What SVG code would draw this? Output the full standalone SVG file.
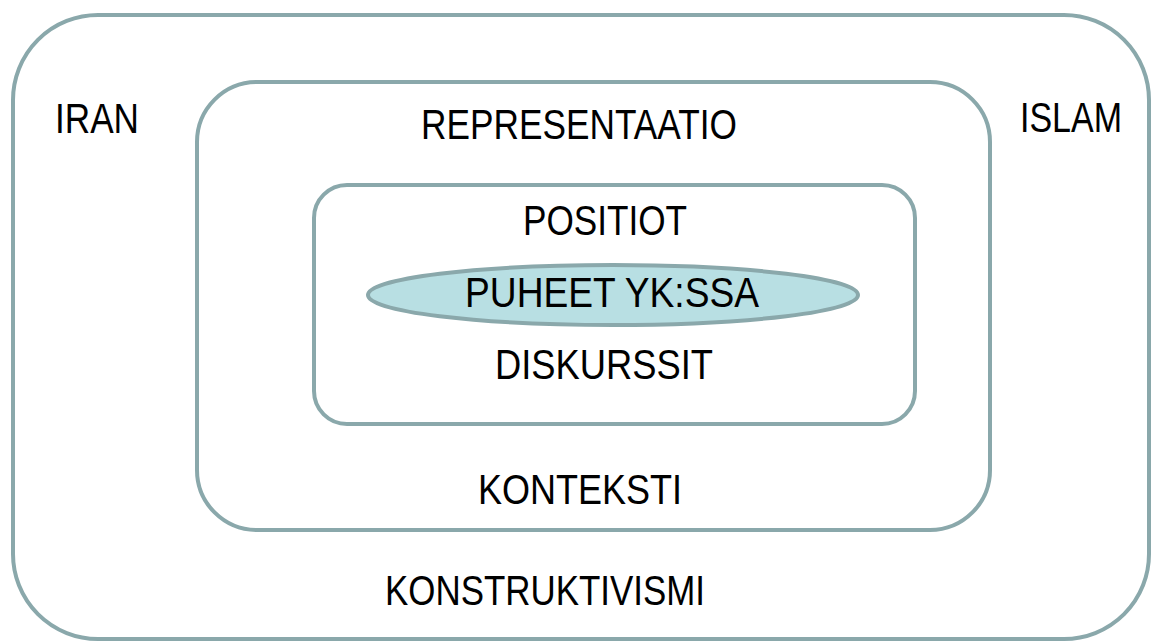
<svg xmlns="http://www.w3.org/2000/svg" width="1160" height="642" viewBox="0 0 1160 642">
<style>
.box{fill:#ffffff;stroke:#8aa8ab;stroke-width:4}
.ell{fill:#b8dfe3;stroke:#8aa8ab;stroke-width:4}
.t{font-family:"Liberation Sans",Arial,sans-serif;font-size:42px;fill:#000}
</style>
<rect width="1160" height="642" fill="#ffffff"/>
<g id="konstruktivismi">
<rect class="box" x="13" y="15" width="1136" height="624" rx="85" ry="85"/>
<text class="t" x="385" y="605" textLength="320" lengthAdjust="spacingAndGlyphs">KONSTRUKTIVISMI</text>
</g>
<g id="iran"><text class="t" x="55" y="133" textLength="84" lengthAdjust="spacingAndGlyphs">IRAN</text></g>
<g id="islam"><text class="t" x="1020" y="132" textLength="102" lengthAdjust="spacingAndGlyphs">ISLAM</text></g>
<g id="konteksti">
<rect class="box" x="197" y="82" width="793" height="448" rx="60" ry="60"/>
<text class="t" x="421" y="139" textLength="316" lengthAdjust="spacingAndGlyphs">REPRESENTAATIO</text>
<text class="t" x="478" y="504" textLength="204" lengthAdjust="spacingAndGlyphs">KONTEKSTI</text>
</g>
<g id="positiot">
<rect class="box" x="314" y="185" width="601" height="239" rx="33" ry="33"/>
<text class="t" x="523" y="235" textLength="164" lengthAdjust="spacingAndGlyphs">POSITIOT</text>
<text class="t" x="495" y="379" textLength="218" lengthAdjust="spacingAndGlyphs">DISKURSSIT</text>
</g>
<g id="puheet">
<ellipse class="ell" cx="613" cy="295" rx="245" ry="30"/>
<text class="t" x="465" y="307" textLength="294" lengthAdjust="spacingAndGlyphs">PUHEET YK:SSA</text>
</g>
<g id="connectors"></g>
</svg>
